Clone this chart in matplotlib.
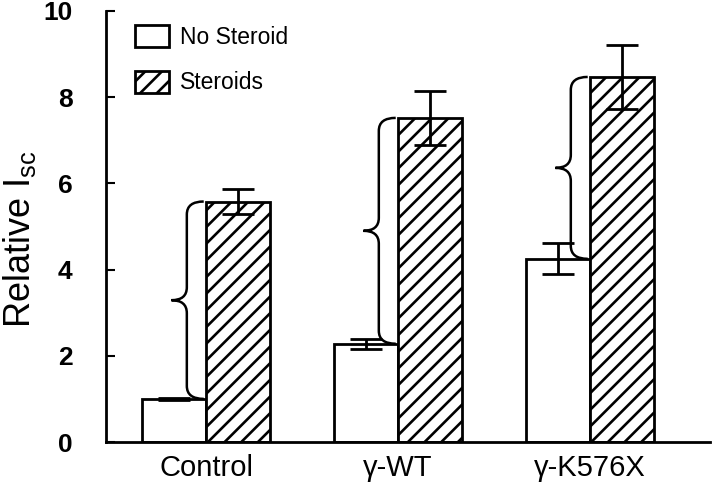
import matplotlib
matplotlib.use('Agg')
import matplotlib.pyplot as plt
import numpy as np
from matplotlib.path import Path
from matplotlib.patches import PathPatch

plt.rcParams['font.family'] = ['Liberation Sans', 'DejaVu Sans']
plt.rcParams['hatch.linewidth'] = 1.9

# data
groups = ['Control', '\u03b3-WT', '\u03b3-K576X']
no_steroid = [1.0, 2.28, 4.25]
no_steroid_err = [0.02, 0.12, 0.36]
steroids = [5.58, 7.52, 8.47]
steroids_err = [0.30, 0.63, 0.75]
yticks = [0, 2, 4, 6, 8, 10]


def brace(ax, x_end, x_v, x_tip, y0, y1, r):
	# curly brace from y0 up to y1, opening to the right
	ym = (y0 + y1) / 2
	verts = [
		(x_end, y1), (x_v, y1), (x_v, y1 - r),
		(x_v, ym + r),
		(x_v, ym), (x_tip, ym),
		(x_v, ym), (x_v, ym - r),
		(x_v, y0 + r),
		(x_v, y0), (x_end, y0),
	]
	codes = [Path.MOVETO, Path.CURVE3, Path.CURVE3,
			 Path.LINETO,
			 Path.CURVE3, Path.CURVE3,
			 Path.CURVE3, Path.CURVE3,
			 Path.LINETO,
			 Path.CURVE3, Path.CURVE3]
	ax.add_patch(PathPatch(Path(verts, codes), fill=False, lw=1.8, ec='black', zorder=4))


fig = plt.figure(figsize=(7.18, 4.97), dpi=100)
ax = fig.add_axes([106 / 718, 55 / 497, 604 / 718, 431 / 497])

x = np.arange(len(groups))
w = 0.333
ekw = dict(elinewidth=2, capthick=2, ecolor='black')
b1 = ax.bar(x - w / 2, no_steroid, w, yerr=no_steroid_err, capsize=11.5,
			color='white', edgecolor='black', linewidth=2, label='No Steroid',
			error_kw=ekw, zorder=2)
b2 = ax.bar(x + w / 2, steroids, w, yerr=steroids_err, capsize=11.5,
			color='white', edgecolor='black', linewidth=2, hatch='//', label='Steroids',
			error_kw=ekw, zorder=2)

for i in range(len(groups)):
	brace(ax, i - 0.012, i - 0.10, i - 0.18, no_steroid[i], steroids[i], 0.3)

ax.set_xlim(-0.521, 2.625)
ax.set_ylim(0, 10)
ax.set_yticks(yticks)
ax.set_yticklabels([str(t) for t in yticks], fontweight='bold', fontsize=19)
ax.tick_params(axis='y', direction='in', length=6.5, width=1.5, pad=24)
ax.set_xticks(x)
ax.set_xticklabels(groups, fontsize=21)
ax.tick_params(axis='x', length=0, pad=9)

for s in ['top', 'right']:
	ax.spines[s].set_visible(False)
ax.spines['left'].set_linewidth(2)
ax.spines['bottom'].set_linewidth(2)

ax.set_ylabel('Relative I$_{\\mathregular{sc}}$', fontsize=26)
ax.yaxis.set_label_coords(-0.112, 0.47)

ax.legend(loc='upper left', bbox_to_anchor=(0.048, 0.9675), frameon=False,
		  fontsize=16.5, handlelength=1.5, handleheight=1.1, handletextpad=0.45,
		  labelspacing=0.95, borderpad=0, borderaxespad=0)

fig.savefig('out.png', dpi=100)
